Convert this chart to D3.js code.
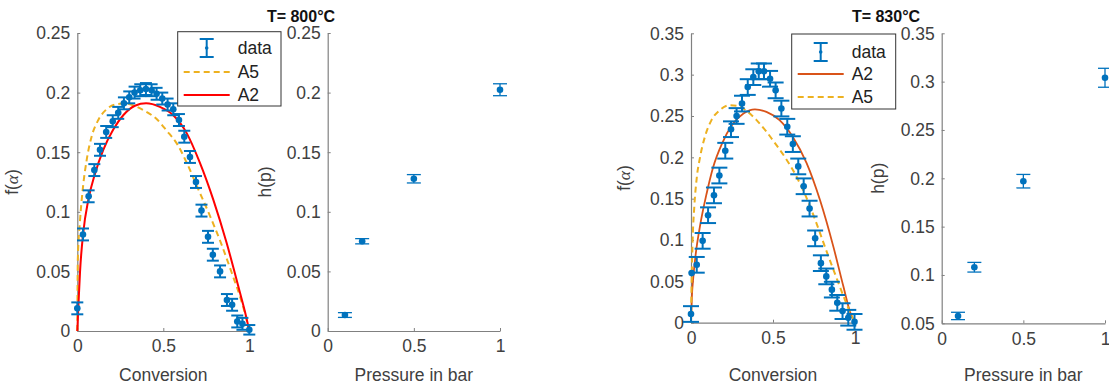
<!DOCTYPE html>
<html>
<head>
<meta charset="utf-8">
<script src="https://cdn.jsdelivr.net/npm/d3@7"></script>
<style>
  html, body { margin: 0; padding: 0; background: #fff; }
  svg { display: block; font-family: "Liberation Sans", Arial, Helvetica, sans-serif; }
</style>
</head>
<body>
<svg id="chart" width="1109" height="387"></svg>
<script>
// ---------- T = 800°C : f(alpha) vs conversion ----------
const conv800 = [0, 0.033, 0.066, 0.099, 0.132, 0.168, 0.206, 0.238, 0.271, 0.302, 0.333, 0.366, 0.399, 0.432, 0.461, 0.494, 0.525, 0.558, 0.591, 0.622, 0.655, 0.69, 0.722, 0.76, 0.788, 0.83, 0.87, 0.9, 0.93, 0.96, 1.0];
const f800 = [0.019, 0.081, 0.113, 0.135, 0.152, 0.167, 0.176, 0.183, 0.191, 0.196, 0.200, 0.202, 0.203, 0.202, 0.199, 0.195, 0.190, 0.186, 0.177, 0.163, 0.146, 0.125, 0.101, 0.079, 0.064, 0.050, 0.026, 0.022, 0.008, 0.006, 0.001];
const fErr800 = [0.005, 0.005, 0.005, 0.005, 0.005, 0.005, 0.005, 0.005, 0.005, 0.005, 0.005, 0.005, 0.005, 0.005, 0.005, 0.005, 0.005, 0.005, 0.005, 0.005, 0.005, 0.005, 0.005, 0.005, 0.005, 0.005, 0.005, 0.005, 0.005, 0.005, 0.004];
const a5Conv800 = [0, 0.003, 0.016, 0.031, 0.054, 0.083, 0.122, 0.17, 0.22, 0.28, 0.33, 0.4, 0.46, 0.52, 0.58, 0.64, 0.7, 0.77, 0.84, 0.9, 0.95, 0.98, 1];
const a5Val800 = [0, 0.06, 0.093, 0.118, 0.143, 0.163, 0.177, 0.186, 0.19, 0.191, 0.189, 0.184, 0.178, 0.168, 0.157, 0.14, 0.12, 0.097, 0.072, 0.048, 0.027, 0.012, 0];
const a2Conv800 = [0, 0.008, 0.016, 0.035, 0.064, 0.103, 0.151, 0.209, 0.267, 0.335, 0.4, 0.48, 0.558, 0.636, 0.713, 0.791, 0.868, 0.946, 0.98, 1];
const a2Val800 = [0, 0.026, 0.05, 0.083, 0.11, 0.132, 0.152, 0.169, 0.181, 0.189, 0.191, 0.188, 0.181, 0.166, 0.141, 0.110, 0.074, 0.032, 0.013, 0];

// ---------- T = 800°C : h(p) vs pressure ----------
const pres800 = [0.1, 0.2, 0.5, 1.0];
const h800 = [0.0134, 0.0753, 0.1277, 0.2024];
const hErr800 = [0.002, 0.0022, 0.0035, 0.005];

// ---------- T = 830°C : f(alpha) vs conversion ----------
const conv830 = [0.0, 0.004, 0.035, 0.071, 0.104, 0.140, 0.173, 0.209, 0.244, 0.278, 0.311, 0.346, 0.380, 0.413, 0.445, 0.482, 0.516, 0.551, 0.587, 0.621, 0.654, 0.687, 0.723, 0.757, 0.792, 0.825, 0.859, 0.892, 0.924, 0.959, 0.997];
const f830 = [0.0105, 0.06, 0.070, 0.099, 0.130, 0.154, 0.178, 0.208, 0.234, 0.250, 0.265, 0.285, 0.297, 0.304, 0.304, 0.295, 0.281, 0.259, 0.237, 0.216, 0.189, 0.165, 0.138, 0.102, 0.072, 0.056, 0.040, 0.024, 0.014, 0.006, 0.001];
const fErr830 = [0.0095, 0, 0.0095, 0.0095, 0.0095, 0.0095, 0.0095, 0.0095, 0.0095, 0.0095, 0.0095, 0.0095, 0.0095, 0.0095, 0.0095, 0.0095, 0.0095, 0.0095, 0.0095, 0.0095, 0.0095, 0.0095, 0.0095, 0.0095, 0.0095, 0.0095, 0.0095, 0.0095, 0.0095, 0.0095, 0.0095];
const a2Conv830 = [0, 0.005, 0.014, 0.03, 0.055, 0.095, 0.135, 0.19, 0.25, 0.32, 0.39, 0.46, 0.54, 0.62, 0.705, 0.787, 0.868, 0.929, 0.97, 1];
const a2Val830 = [0, 0.03, 0.055, 0.085, 0.117, 0.156, 0.188, 0.217, 0.239, 0.253, 0.258, 0.255, 0.245, 0.225, 0.193, 0.148, 0.092, 0.044, 0.013, 0];
const a5Conv830 = [0, 0.004, 0.01, 0.02, 0.035, 0.055, 0.085, 0.125, 0.175, 0.235, 0.29, 0.34, 0.4, 0.46, 0.52, 0.58, 0.64, 0.7, 0.76, 0.82, 0.88, 0.94, 0.98, 1];
const a5Val830 = [0, 0.05, 0.1, 0.14, 0.175, 0.2, 0.225, 0.245, 0.257, 0.263, 0.262, 0.256, 0.245, 0.231, 0.215, 0.198, 0.178, 0.153, 0.123, 0.09, 0.058, 0.027, 0.008, 0];

// ---------- T = 830°C : h(p) vs pressure ----------
const pres830 = [0.1, 0.2, 0.5, 1.0];
const h830 = [0.0576, 0.108, 0.197, 0.304];
const hErr830 = [0.0038, 0.005, 0.007, 0.0098];

// ---------- ticks, labels ----------
const xTicks = [0, 0.5, 1];
const yTicks800 = [0, 0.05, 0.1, 0.15, 0.2, 0.25];
const yTicks830f = [0, 0.05, 0.1, 0.15, 0.2, 0.25, 0.3, 0.35];
const yTicks830h = [0.05, 0.1, 0.15, 0.2, 0.25, 0.3, 0.35];
const titles = ["T= 800°C", "T= 830°C"];
const legend800 = ["data", "A5", "A2"];
const legend830 = ["data", "A2", "A5"];

// ---------- styling ----------
const BLUE = "#0072BD", RED = "#FF0000", ORANGE = "#D95319", GOLD = "#EDB120";
const TEXT = "#404040", AXIS = "#808080";
const FONT = 17.5;

const svg = d3.select("#chart");
const fmt = d => String(+d.toFixed(2));

function panel(o) {
  const x = d3.scaleLinear().domain([0, 1]).range(o.xr);
  const y = d3.scaleLinear().domain(o.yd).range(o.yr);
  const g = svg.append("g");

  const ax = g.append("g").attr("transform", `translate(0,${o.yr[0]})`)
    .call(d3.axisBottom(x).tickValues(xTicks).tickFormat(fmt).tickSizeInner(-3).tickSizeOuter(0).tickPadding(9));
  const ay = g.append("g").attr("transform", `translate(${o.xr[0]},0)`)
    .call(d3.axisLeft(y).tickValues(o.yt).tickFormat(fmt).tickSizeInner(-3).tickSizeOuter(0).tickPadding(7));
  [ax, ay].forEach(a => {
    a.selectAll("path").attr("stroke", AXIS).attr("stroke-width", 1.2);
    a.selectAll("line").attr("stroke", AXIS).attr("stroke-width", 1);
    a.selectAll("text").attr("fill", TEXT).style("font-size", FONT + "px");
  });
  ay.selectAll("text").attr("dy", "0.34em");
  g.append("text").attr("x", (o.xr[0] + o.xr[1]) / 2).attr("y", 381)
    .attr("text-anchor", "middle").attr("fill", TEXT).style("font-size", FONT + "px").text(o.xlabel);
  const yl = g.append("text")
    .attr("transform", `translate(${o.ylx},${(o.yr[0] + o.yr[1]) / 2}) rotate(-90)`)
    .attr("text-anchor", "middle").attr("fill", TEXT).style("font-size", FONT + "px");
  if (o.ylabel === "f") {
    yl.append("tspan").text("f(");
    yl.append("tspan").style("font-family", "'Liberation Serif', serif").style("font-style", "italic").text("α");
    yl.append("tspan").text(")");
  } else {
    yl.text(o.ylabel);
  }

  (o.curves || []).forEach(c => {
    const pts = c.xs.map((v, i) => [v, c.ys[i]]);
    g.append("path").datum(pts)
      .attr("fill", "none").attr("stroke", c.color).attr("stroke-width", c.w)
      .attr("stroke-dasharray", c.dash ? "6,4" : null)
      .attr("d", d3.line().x(d => x(d[0])).y(d => y(d[1])).curve(d3.curveMonotoneX));
  });

  const eg = g.append("g").attr("stroke", BLUE).attr("stroke-width", o.ew);
  o.px.forEach((v, i) => {
    const cx = x(v), e = o.pe[i];
    if (e > 0) {
      const y1 = y(o.py[i] + e), y2 = y(o.py[i] - e);
      eg.append("line").attr("x1", cx).attr("x2", cx).attr("y1", y1).attr("y2", y2);
      eg.append("line").attr("x1", cx - o.cap).attr("x2", cx + o.cap).attr("y1", y1).attr("y2", y1);
      eg.append("line").attr("x1", cx - o.cap).attr("x2", cx + o.cap).attr("y1", y2).attr("y2", y2);
    }
  });
  g.append("g").selectAll("circle").data(o.px).join("circle")
    .attr("cx", d => x(d)).attr("cy", (d, i) => y(o.py[i])).attr("r", 3.3).attr("fill", BLUE);
}

function legend(lx, ly, w, h, rows, items) {
  const g = svg.append("g");
  g.append("rect").attr("x", lx).attr("y", ly).attr("width", w).attr("height", h)
    .attr("fill", "#fff").attr("stroke", "#333").attr("stroke-width", 1);
  items.forEach((it, i) => {
    const cy = rows[i];
    const sx = lx + 6, ex = lx + 52, mx = (sx + ex) / 2;
    if (it.type === "data") {
      const eg = g.append("g").attr("stroke", BLUE).attr("stroke-width", 2);
      eg.append("line").attr("x1", mx).attr("x2", mx).attr("y1", cy - 9).attr("y2", cy + 9);
      eg.append("line").attr("x1", mx - 7).attr("x2", mx + 7).attr("y1", cy - 9).attr("y2", cy - 9);
      eg.append("line").attr("x1", mx - 7).attr("x2", mx + 7).attr("y1", cy + 9).attr("y2", cy + 9);
      g.append("circle").attr("cx", mx).attr("cy", cy).attr("r", 1.8).attr("fill", BLUE);
    } else {
      g.append("line").attr("x1", sx).attr("x2", ex).attr("y1", cy).attr("y2", cy)
        .attr("stroke", it.color).attr("stroke-width", it.w).attr("stroke-dasharray", it.dash ? "6,4" : null);
    }
    g.append("text").attr("x", lx + 60).attr("y", cy).attr("dy", "0.35em")
      .attr("fill", "#222").style("font-size", FONT + "px").text(it.label);
  });
}

panel({ xr: [77.3, 249.3], yr: [331, 33], yd: [0, 0.25], yt: yTicks800, xlabel: "Conversion", ylabel: "f", ylx: 18,
  px: conv800, py: f800, pe: fErr800, ew: 2, cap: 6,
  curves: [
    { xs: a5Conv800, ys: a5Val800, color: GOLD, w: 2, dash: true },
    { xs: a2Conv800, ys: a2Val800, color: RED, w: 2 }
  ] });
panel({ xr: [327.7, 500], yr: [331, 33], yd: [0, 0.25], yt: yTicks800, xlabel: "Pressure in bar", ylabel: "h(p)", ylx: 271,
  px: pres800, py: h800, pe: hErr800, ew: 1.3, cap: 7, curves: [] });
panel({ xr: [691, 855], yr: [322.7, 33.3], yd: [0, 0.35], yt: yTicks830f, xlabel: "Conversion", ylabel: "f", ylx: 630,
  px: conv830, py: f830, pe: fErr830, ew: 2, cap: 8,
  curves: [
    { xs: a2Conv830, ys: a2Val830, color: ORANGE, w: 1.8 },
    { xs: a5Conv830, ys: a5Val830, color: GOLD, w: 2, dash: true }
  ] });
panel({ xr: [941.7, 1105], yr: [323.3, 33.3], yd: [0.05, 0.35], yt: yTicks830h, xlabel: "Pressure in bar", ylabel: "h(p)", ylx: 884,
  px: pres830, py: h830, pe: hErr830, ew: 1.3, cap: 7, curves: [] });

svg.append("text").attr("x", 301).attr("y", 22).attr("text-anchor", "middle")
  .attr("font-weight", "bold").attr("fill", "#111").style("font-size", "16px").text(titles[0]);
svg.append("text").attr("x", 886).attr("y", 22).attr("text-anchor", "middle")
  .attr("font-weight", "bold").attr("fill", "#111").style("font-size", "16px").text(titles[1]);

legend(177.7, 31.7, 103.3, 74.3, [48, 72, 95], [
  { type: "data", label: legend800[0] },
  { label: legend800[1], color: GOLD, w: 2, dash: true },
  { label: legend800[2], color: RED, w: 2 }
]);
legend(791.7, 34, 104, 75, [52, 74, 97], [
  { type: "data", label: legend830[0] },
  { label: legend830[1], color: ORANGE, w: 1.8 },
  { label: legend830[2], color: GOLD, w: 2, dash: true }
]);
</script>
</body>
</html>
